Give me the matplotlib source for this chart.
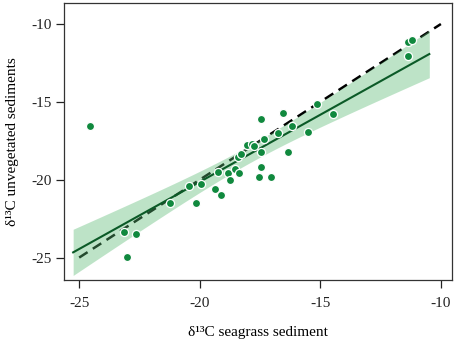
##### d13C seagrass vs unvegetated sediment #####
import numpy as np
import matplotlib
matplotlib.use('Agg')
import matplotlib.pyplot as plt

# data
seagrass = [-24.57, -23.13, -22.63, -23.03, -21.24, -20.44, -20.15, -19.94, -19.36, -19.13,
            -19.23, -18.84, -18.75, -18.54, -18.39, -18.42, -18.30, -18.04, -17.82, -17.74,
            -17.45, -17.45, -17.54, -17.06, -17.45, -17.34, -16.55, -16.74, -16.16, -16.34,
            -15.51, -15.15, -14.46, -11.36, -11.18, -11.36]
unvegetated = [-16.56, -23.38, -23.46, -24.94, -21.47, -20.38, -21.50, -20.28, -20.58, -20.98,
               -19.49, -19.57, -20.00, -19.29, -19.57, -18.57, -18.35, -17.80, -17.69, -17.86,
               -18.21, -19.19, -19.81, -19.81, -16.11, -17.39, -15.72, -17.01, -16.58, -18.21,
               -16.92, -15.13, -15.81, -11.13, -11.05, -12.03]

xticks = [-25, -20, -15, -10]
yticks = [-25, -20, -15, -10]

x = np.array(seagrass)
y = np.array(unvegetated)

# linear fit with 95% confidence band (all points)
n = len(x)
slope, intercept = np.polyfit(x, y, 1)
resid = y - (slope * x + intercept)
s = np.sqrt(np.sum(resid ** 2) / (n - 2))
sxx = np.sum((x - x.mean()) ** 2)
xx = np.linspace(-25.25, -10.48, 100)
yy = slope * xx + intercept
half = 2.03 * s * np.sqrt(1.0 / n + (xx - x.mean()) ** 2 / sxx)

plt.rcParams['font.family'] = 'Liberation Serif'

fig = plt.figure(figsize=(4.59, 3.41), dpi=100)
ax = fig.add_axes([0.1394, 0.1789, 0.8453, 0.8123])

ax.plot([-25, -10], [-25, -10], color='black', lw=1.8, dashes=(4, 2.5), zorder=1)   # 1:1 line
ax.fill_between(xx, yy - half, yy + half, color='#5cbb75', alpha=0.4, lw=0, zorder=2)
ax.plot(xx, yy, color='#0b5a27', lw=1.5, zorder=3)
ax.scatter(x, y, s=34, color='#10893e', edgecolor='white', linewidth=0.9, zorder=4)

ax.set_xlim(-25.63, -9.54)
ax.set_ylim(-26.44, -8.65)
ax.set_xticks(xticks)
ax.set_yticks(yticks)
ax.set_xticklabels([str(t) for t in xticks])
ax.set_yticklabels([str(t) for t in yticks])
ax.tick_params(axis='x', pad=6)
ax.tick_params(length=6, width=0.9, labelsize=11, colors='#222222')
ax.tick_params(axis='y', pad=3)
for sp in ax.spines.values():
    sp.set_color('#333333')
    sp.set_linewidth(0.9)

ax.set_xlabel('δ¹³C seagrass sediment', fontsize=11, labelpad=12)
ax.set_ylabel('δ¹³C unvegetated sediments', fontsize=11, labelpad=9)

plt.savefig('out.png', dpi=100)
plt.close(None)
